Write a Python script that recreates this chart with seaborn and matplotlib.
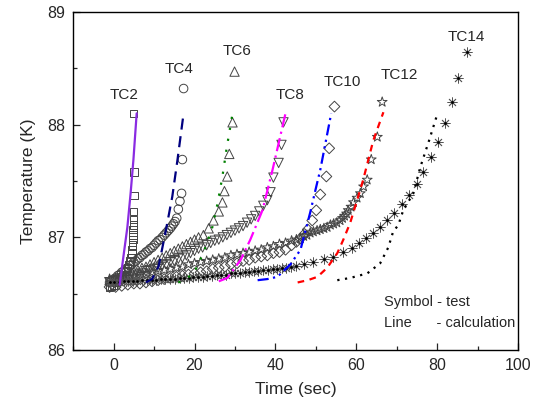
import matplotlib
matplotlib.use("Agg")
import matplotlib.pyplot as plt
import seaborn as sns
from matplotlib.ticker import MultipleLocator

# test data (symbols)
tc2_t = [-1.0, -0.5, 0.0, 0.5, 1.0, 1.5, 2.0, 2.5, 3.0, 3.4, 3.8, 4.1, 4.3, 4.5, 4.6, 4.7,
         4.75, 4.8, 4.85, 4.9, 4.9, 4.95, 5.0, 5.0, 4.95]
tc2_T = [86.56, 86.57, 86.58, 86.60, 86.61, 86.63, 86.65, 86.67, 86.70, 86.73, 86.76, 86.79,
         86.82, 86.85, 86.89, 86.93, 86.98, 87.02, 87.07, 87.11, 87.16, 87.23, 87.37, 87.58, 88.10]

tc4_t = [-1, -0.5, 0, 0.5, 1, 1.5, 2, 2.5, 3, 3.5, 4, 4.5, 5, 5.5, 6, 6.5, 7, 7.5, 8, 8.5, 9,
         9.5, 10, 10.5, 11, 11.5, 12, 12.5, 13, 13.5, 14, 14.4, 14.8, 15.2, 15.6, 16.0, 16.4,
         16.8, 17.0, 17.3]
tc4_T = [86.60, 86.61, 86.63, 86.64, 86.66, 86.67, 86.69, 86.70, 86.72, 86.73, 86.75, 86.76,
         86.78, 86.79, 86.81, 86.82, 86.84, 86.85, 86.87, 86.88, 86.90, 86.91, 86.93, 86.95,
         86.97, 86.98, 87.00, 87.02, 87.04, 87.06, 87.08, 87.10, 87.12, 87.14, 87.17, 87.25,
         87.32, 87.39, 87.69, 88.32]

tc6_t = [-1, 0, 1, 2, 3, 4, 5, 6, 7, 8, 9, 10, 11, 12, 13, 14, 15, 16, 17, 18, 19, 20, 21,
         22.2, 23.5, 24.7, 26.0, 26.9, 27.4, 28.1, 28.6, 29.4, 29.9]
tc6_T = [86.62, 86.63, 86.64, 86.65, 86.67, 86.68, 86.70, 86.71, 86.73, 86.74, 86.76, 86.78,
         86.80, 86.82, 86.84, 86.86, 86.88, 86.90, 86.92, 86.94, 86.96, 86.98, 87.00,
         87.02, 87.08, 87.15, 87.23, 87.31, 87.41, 87.54, 87.74, 88.02, 88.47]

tc8_t = [-1, 0, 1, 2, 3, 4, 5, 6, 7, 8, 9, 10, 11, 12, 13, 14, 15, 16, 17, 18, 19, 20, 21, 22,
         23, 24, 25, 26, 27, 28, 29, 30, 31, 32, 33, 34, 35, 36, 37, 38.0, 38.8, 39.5, 40.8,
         41.5, 42.0]
tc8_T = [86.60, 86.61, 86.62, 86.63, 86.64, 86.65, 86.66, 86.67, 86.68, 86.70, 86.71, 86.72,
         86.73, 86.75, 86.76, 86.78, 86.79, 86.81, 86.82, 86.84, 86.86, 86.88, 86.90, 86.91,
         86.93, 86.95, 86.97, 86.98, 87.00, 87.02, 87.04, 87.06, 87.08, 87.10, 87.13, 87.16,
         87.19, 87.23, 87.28, 87.33, 87.40, 87.53, 87.66, 87.82, 88.02]

tc10_t = [-1, 0.5, 2, 3.5, 5, 6.5, 8, 9.5, 11, 12.5, 14, 15.5, 17, 18.5, 20, 21.5, 23, 24.5,
          26, 27.5, 29, 30.5, 32, 33.5, 35, 36.5, 38, 39.5, 41, 42.5, 44, 45.2, 46.2, 47.2,
          48.0, 49.1, 50.1, 51.1, 52.6, 53.3, 54.6]
tc10_T = [86.56, 86.56, 86.57, 86.58, 86.59, 86.59, 86.60, 86.61, 86.62, 86.63, 86.64, 86.65,
          86.66, 86.67, 86.68, 86.69, 86.70, 86.72, 86.73, 86.74, 86.76, 86.77, 86.79, 86.80,
          86.82, 86.83, 86.84, 86.86, 86.87, 86.89, 86.93, 86.96, 86.99, 87.03, 87.07, 87.15,
          87.24, 87.38, 87.54, 87.79, 88.16]

tc12_t = [-1, 0.5, 2, 3.5, 5, 6.5, 8, 9.5, 11, 12.5, 14, 15.5, 17, 18.5, 20, 21.5, 23, 24.5,
          26, 27.5, 29, 30.5, 32, 33.5, 35, 36.5, 38, 39.5, 41, 42.5, 44, 45.2, 46.2, 47.0,
          47.8, 48.6, 49.4, 50.3, 51.1, 52.0, 52.8, 53.6, 54.4, 55.2, 56.0, 56.6, 57.1, 57.6,
          58.0, 58.7, 59.3, 60.2, 61.0, 61.8, 62.7, 63.7, 65.2, 66.4]
tc12_T = [86.63, 86.64, 86.64, 86.65, 86.66, 86.67, 86.68, 86.69, 86.70, 86.71, 86.72, 86.73,
          86.74, 86.76, 86.77, 86.78, 86.79, 86.80, 86.81, 86.82, 86.84, 86.85, 86.86, 86.87,
          86.88, 86.89, 86.91, 86.92, 86.94, 86.95, 86.97, 86.98, 86.99, 87.01, 87.02, 87.04,
          87.05, 87.06, 87.07, 87.08, 87.09, 87.11, 87.12, 87.13, 87.15, 87.17, 87.19, 87.21,
          87.24, 87.27, 87.31, 87.35, 87.39, 87.45, 87.51, 87.69, 87.89, 88.20]

tc14_t = [-1, 0.2, 1.3, 2.5, 3.6, 4.8, 5.9, 7.1, 8.2, 9.4, 10.5, 11.7, 12.8, 14.0, 15.1, 16.3,
          17.4, 18.6, 19.7, 20.9, 22.0, 23.2, 24.3, 25.5, 26.6, 27.8, 28.9, 30.1, 31.2, 32.4,
          33.5, 34.7, 35.8, 37.0, 38.1, 39.3, 40.4, 41.6, 42.7, 43.9, 45.0, 47.1, 49.4, 51.9,
          54.3, 56.8, 59.0, 60.6, 62.3, 64.2, 65.9, 67.7, 69.4, 71.2, 73.1, 75.0, 76.6, 78.5,
          80.2, 82.0, 83.7, 85.2, 87.4]
tc14_T = [86.60, 86.60, 86.60, 86.61, 86.61, 86.61, 86.61, 86.62, 86.62, 86.62, 86.62, 86.63,
          86.63, 86.63, 86.63, 86.64, 86.64, 86.64, 86.65, 86.65, 86.65, 86.66, 86.66, 86.67,
          86.67, 86.67, 86.68, 86.68, 86.68, 86.69, 86.69, 86.70, 86.70, 86.71, 86.71, 86.72,
          86.72, 86.73, 86.73, 86.74, 86.75, 86.76, 86.78, 86.81, 86.83, 86.87, 86.91, 86.95,
          86.99, 87.04, 87.09, 87.15, 87.22, 87.30, 87.38, 87.47, 87.58, 87.71, 87.85, 88.01,
          88.20, 88.41, 88.64]

# calculation (lines)
c2_t = [1.5, 2.5, 3.4, 4.2, 4.9, 5.7]
c2_T = [86.58, 86.85, 87.09, 87.39, 87.69, 88.10]
c4_t = [8.0, 9.5, 11.1, 12.8, 14.5, 15.8, 17.3]
c4_T = [86.60, 86.63, 86.74, 87.04, 87.36, 87.69, 88.10]
c6_t = [16.0, 17.3, 19.8, 22.2, 24.4, 25.7, 26.9, 27.9, 29.4]
c6_T = [86.60, 86.62, 86.68, 86.86, 87.09, 87.30, 87.54, 87.78, 88.10]
c8_t = [26.0, 28.1, 31.4, 33.8, 36.8, 39.3, 42.5]
c8_T = [86.61, 86.64, 86.80, 86.98, 87.24, 87.60, 88.10]
c10_t = [35.6, 38.0, 40.5, 43.7, 46.2, 48.6, 49.9, 51.1, 53.8]
c10_T = [86.62, 86.63, 86.65, 86.76, 86.89, 87.22, 87.42, 87.60, 88.10]
c12_t = [45.5, 48.0, 50.4, 52.8, 55.3, 56.8, 58.5, 60.2, 61.7, 64.2, 66.7]
c12_T = [86.60, 86.62, 86.65, 86.73, 86.86, 86.98, 87.13, 87.33, 87.51, 87.86, 88.11]
c14_t = [55.3, 58.5, 62.7, 65.9, 67.9, 69.1, 70.4, 71.6, 74.1, 75.8, 78.0, 80.0]
c14_T = [86.62, 86.64, 86.68, 86.77, 86.91, 87.05, 87.11, 87.24, 87.39, 87.62, 87.86, 88.09]

labels = ["TC2", "TC4", "TC6", "TC8", "TC10", "TC12", "TC14"]
label_x = [2.5, 16.3, 30.6, 43.5, 56.5, 70.6, 87.2]
label_y = [88.26, 88.49, 88.65, 88.26, 88.38, 88.44, 88.78]

sns.set_style("white")
plt.rcParams['font.family'] = ['Liberation Sans', 'DejaVu Sans']

fig, ax = plt.subplots(figsize=(5.38, 4.09), dpi=100)
fig.subplots_adjust(left=0.136, right=0.963, top=0.971, bottom=0.144)

# symbols
ec = "#444444"
sym_kw = dict(facecolor="none", edgecolor=ec, linewidth=0.7, ax=ax, legend=False, zorder=3)
sns.scatterplot(x=tc2_t, y=tc2_T, marker="s", s=30, **sym_kw)
sns.scatterplot(x=tc4_t, y=tc4_T, marker="o", s=38, **sym_kw)
sns.scatterplot(x=tc6_t, y=tc6_T, marker="^", s=45, **sym_kw)
sns.scatterplot(x=tc8_t, y=tc8_T, marker="v", s=45, **sym_kw)
sns.scatterplot(x=tc10_t, y=tc10_T, marker="D", s=30, **sym_kw)
sns.scatterplot(x=tc12_t, y=tc12_T, marker="*", s=55, **sym_kw)
sns.scatterplot(x=tc14_t, y=tc14_T, marker=(8, 2, 0), s=45, color="#555555", linewidth=0.6,
                ax=ax, legend=False, zorder=3)
sns.scatterplot(x=tc14_t, y=tc14_T, marker="o", s=4, color="black", linewidth=0,
                ax=ax, legend=False, zorder=4)

# calculation lines
line_kw = dict(ax=ax, sort=False, estimator=None, linewidth=1.6, zorder=5)
sns.lineplot(x=c2_t, y=c2_T, color="#8a2be2", linestyle="-", **line_kw)
sns.lineplot(x=c4_t, y=c4_T, color="#000080", linestyle=(0, (5, 3)), **line_kw)
sns.lineplot(x=c6_t, y=c6_T, color="#008000", linestyle=(0, (1, 4)), **line_kw)
sns.lineplot(x=c8_t, y=c8_T, color="#ff00ff", linestyle=(0, (6, 2, 1, 2)), **line_kw)
sns.lineplot(x=c10_t, y=c10_T, color="#0000ff", linestyle=(0, (5, 2, 1, 2, 1, 2)), **line_kw)
sns.lineplot(x=c12_t, y=c12_T, color="#ff0000", linestyle=(0, (3, 2.5)), **line_kw)
sns.lineplot(x=c14_t, y=c14_T, color="black", linestyle=(0, (1, 2.5)), **line_kw)

for lab, x, y in zip(labels, label_x, label_y):
    ax.text(x, y, lab, ha="center", va="center", fontsize=11)

ax.text(66.9, 86.43, "Symbol - test", fontsize=10.5, va="center")
ax.text(66.9, 86.24, "Line      - calculation", fontsize=10.5, va="center")

ax.set_xlim(-10, 100)
ax.set_ylim(86, 89)
ax.xaxis.set_major_locator(MultipleLocator(20))
ax.xaxis.set_minor_locator(MultipleLocator(10))
ax.yaxis.set_major_locator(MultipleLocator(1))
ax.yaxis.set_minor_locator(MultipleLocator(0.5))
ax.tick_params(which="both", direction="in", bottom=True, left=True, top=False, right=False,
               labelsize=11.5, width=0.9)
ax.tick_params(which="major", length=5, pad=6)
ax.tick_params(which="minor", length=3)
for sp in ax.spines.values():
    sp.set_linewidth(1.0)
    sp.set_color("black")

ax.set_xlabel("Time (sec)", fontsize=12.5, labelpad=6)
ax.set_ylabel("Temperature (K)", fontsize=12.5, labelpad=8)

fig.savefig("out.png", dpi=100)
